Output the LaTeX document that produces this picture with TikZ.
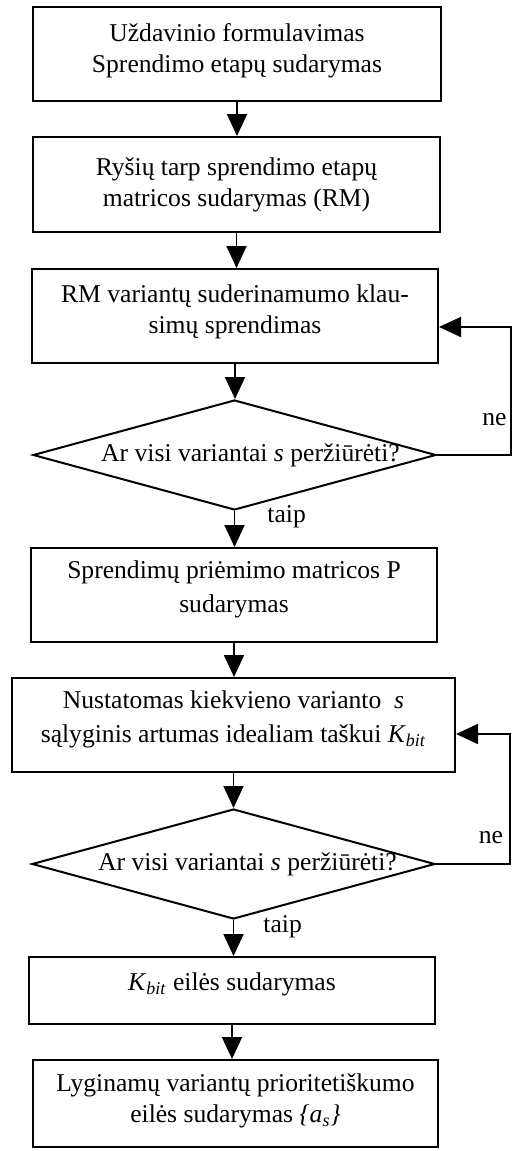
\documentclass[tikz,border=0pt]{standalone}
\usepackage{fontspec}
\setmainfont{Liberation Serif}
\usetikzlibrary{shapes.geometric,arrows.meta}
\newcommand{\dnstrut}[1]{\rule[-#1]{0pt}{#1}}
\begin{document}
\begin{tikzpicture}[x=0.5pt,y=-0.5pt,
  every node/.style={font=\fontsize{12.8}{15.5}\selectfont},
  box/.style={draw,line width=1pt,rectangle,align=center,inner sep=0pt},
  dec/.style={draw,line width=1pt,diamond,inner sep=0pt,minimum width=201.5pt,minimum height=55pt},
  arr/.style={line width=0.9pt,-{Triangle[length=11pt,width=10pt]}},
  lbl/.style={inner sep=0pt}]
\useasboundingbox (0,0) rectangle (512,1151);
\node[box,minimum width=204pt,minimum height=47pt] (b1) at (237,54) {Uždavinio formulavimas\\Sprendimo etapų sudarymas\dnstrut{5.8pt}};
\node[box,minimum width=203.5pt,minimum height=47.5pt] (b2) at (236.5,184.5) {Ryšių tarp sprendimo etapų\\matricos sudarymas (RM)};
\node[box,minimum width=203pt,minimum height=47pt] (b3) at (235,316) {RM variantų suderinamumo klau-\\simų sprendimas\dnstrut{6.8pt}};
\node[dec,label={[xshift=8pt,lbl]center:Ar visi variantai \textit{s} peržiūrėti?}] (d1) at (234.5,455) {};
\node[box,minimum width=203pt,minimum height=47pt] (b4) at (234,595) {Sprendimų priėmimo matricos P\\[1.5pt]sudarymas\dnstrut{8.8pt}};
\node[box,minimum width=221.5pt,minimum height=47pt] (b5) at (233.5,725) {Nustatomas kiekvieno varianto~ \textit{s}\\[1.5pt]sąlyginis artumas idealiam taškui \textit{K}\textsubscript{\textit{bit}}\dnstrut{8.8pt}};
\node[dec,label={[xshift=7pt,lbl]center:Ar visi variantai \textit{s} peržiūrėti?}] (d2) at (233.5,864) {};
\node[box,minimum width=203pt,minimum height=33.5pt] (b6) at (232,990.5) {\textit{K}\textsubscript{\textit{bit}} eilės sudarymas\dnstrut{8.8pt}};
\node[box,minimum width=202.5pt,minimum height=43.5pt] (b7) at (235.5,1103.5) {Lyginamų variantų prioritetiškumo\\eilės sudarymas \textit{\{a\textsubscript{s}\}}\dnstrut{5.2pt}};
\draw[arr] (b1.south) -- (b1.south |- b2.north);
\draw[arr] (b2.south) -- (b2.south |- b3.north);
\draw[arr] (b3.south) -- (b3.south |- d1.north);
\draw[arr] (d1.south) -- (d1.south |- b4.north);
\draw[arr] (b4.south) -- (b4.south |- b5.north);
\draw[arr] (b5.south) -- (b5.south |- d2.north);
\draw[arr] (d2.south) -- (d2.south |- b6.north);
\draw[arr] (b6.south) -- (b6.south |- b7.north);
\coordinate (r1) at (511,455);
\coordinate (r2) at (510,864);
\draw[arr] (d1.east) -- (r1) |- ([yshift=-5.5pt]b3.east);
\draw[arr] (d2.east) -- (r2) |- ([yshift=-4.5pt]b5.east);
\node[lbl,anchor=base] (ne1) at (494.5,425) {ne};
\node[lbl,anchor=base] (ne2) at (491,843) {ne};
\node[lbl,anchor=base west] (t1) at (267,522) {taip};
\node[lbl,anchor=base west] (t2) at (263,932) {taip};
\end{tikzpicture}
\end{document}
